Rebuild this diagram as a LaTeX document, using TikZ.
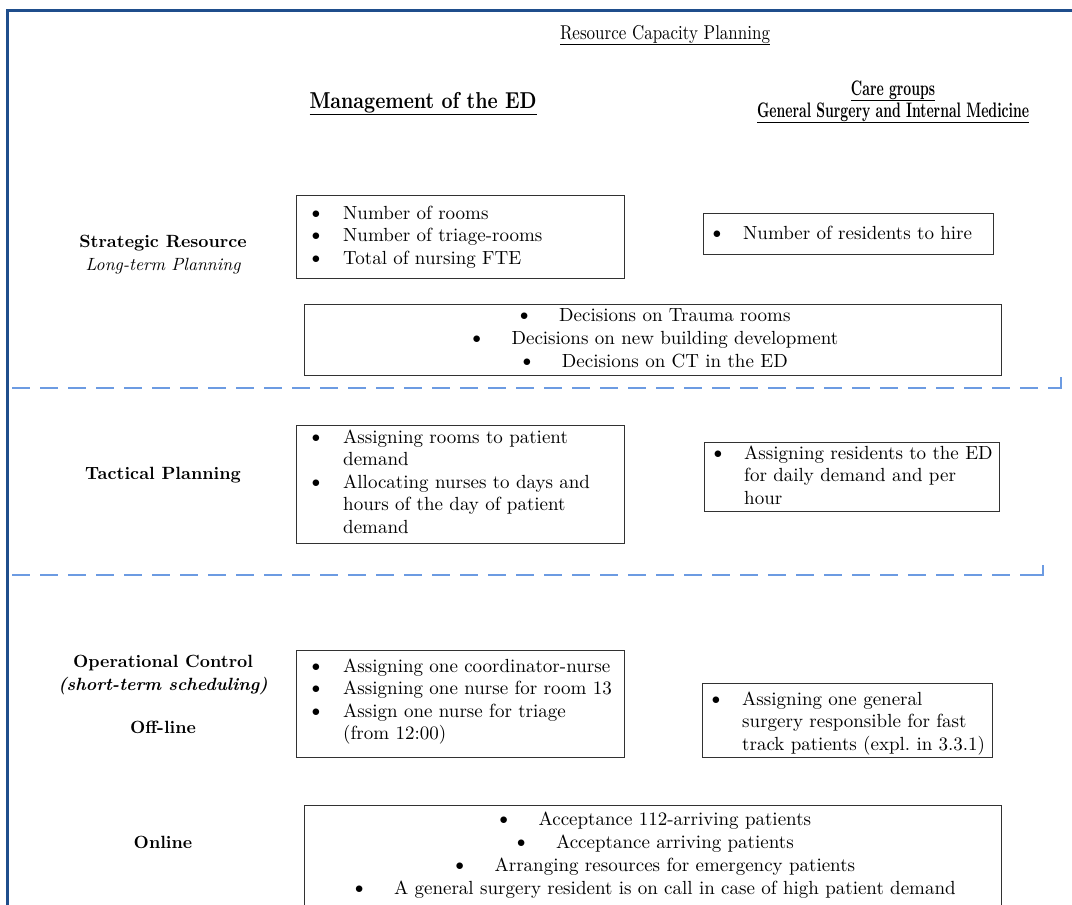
\documentclass[tikz,border=0pt]{standalone}
\usepackage{fontspec}
\setmainfont{lmroman10-regular.otf}[BoldFont=lmroman10-bold.otf, ItalicFont=lmroman10-italic.otf, BoldItalicFont=lmroman10-bolditalic.otf]
\usepackage{graphicx}
\usetikzlibrary{calc}
\definecolor{frameblue}{RGB}{31,78,140}
\definecolor{dashblue}{RGB}{108,155,226}
\definecolor{boxline}{RGB}{50,50,50}
\newcommand{\bodyfont}{\fontsize{19}{22.5}\selectfont}
\newcommand{\labelfont}{\fontsize{17.7}{22.5}\selectfont}
\newcommand{\bul}{\scalebox{1.2}{\textbullet}}
\newcommand{\blist}[3]{\begin{tabular}[t]{@{\hspace{#1}}p{#2}@{}l@{}}#3\end{tabular}}
\newcommand{\clist}[1]{\begin{tabular}[t]{@{}c@{}}#1\end{tabular}}
\newcommand{\bt}{\bul\hspace{26pt}}
\tikzset{
  box/.style={draw=boxline, line width=1pt, inner sep=0pt, anchor=north west},
  listtext/.style={inner sep=0pt, anchor=base west, font=\bodyfont},
  centertext/.style={inner sep=0pt, anchor=base, font=\bodyfont},
  rowlabel/.style={inner sep=0pt, anchor=base, align=center, font=\labelfont\bfseries},
  heading/.style={inner sep=0pt, anchor=base},
  levelsep/.style={draw=dashblue, line width=2pt, dash pattern=on 18pt off 10pt},
  septick/.style={draw=dashblue, line width=1.5pt},
}
\begin{document}
\begin{tikzpicture}[x=1pt,y=-1pt]
\useasboundingbox (0,0) rectangle (1072,905);
\fill[white] (0,0) rectangle (1072,905);
\begin{scope}
\clip (0,0) rectangle (1072,905);
% frame
\draw[frameblue, line width=3pt] (7.5,910) -- (7.5,10.5) -- (1075,10.5);

% headings
\node[heading] (title) at (665,39) {\resizebox{210pt}{\height}{\fontsize{20}{24}\selectfont\underline{Resource Capacity Planning}}};
\node[heading] (mgmt) at (423,108) {\resizebox{227pt}{\height}{\fontsize{23}{26}\selectfont\bfseries\underline{Management of the ED}}};
\node[heading] (care) at (893,95) {\resizebox{272pt}{\height}{\fontsize{21}{22}\selectfont\bfseries\begin{tabular}[t]{@{}c@{}}\underline{Care groups}\\ \underline{General Surgery and Internal Medicine}\end{tabular}}};

% row labels
\node[rowlabel] (strat) at (163,270) {Strategic Resource\\ \mdseries\itshape Long-term Planning};
\node[rowlabel] (tact) at (163,479) {Tactical Planning};
\node[rowlabel] (oper) at (163,690) {Operational Control\\ \itshape (short-term scheduling)};
\node[rowlabel] (offl) at (163,733) {Off-line};
\node[rowlabel] (onl) at (163,848) {Online};

% boxes
\node[box, minimum width=328pt, minimum height=83pt] (b1) at (296,195) {};
\node[box, minimum width=290pt, minimum height=41pt] (b2) at (703,213) {};
\node[box, minimum width=697pt, minimum height=71pt] (b3) at (304,304) {};
\node[box, minimum width=328pt, minimum height=118pt] (b4) at (296,425) {};
\node[box, minimum width=295pt, minimum height=69pt] (b5) at (704,442) {};
\node[box, minimum width=328pt, minimum height=107pt] (b6) at (296,650) {};
\node[box, minimum width=290pt, minimum height=74pt] (b7) at (702,683) {};
\node[box, minimum width=697pt, minimum height=130pt] (b8) at (304,805) {};

% box texts
\node[listtext] (t1) at ($(b1.north west)+(0,24)$) {\blist{11pt}{36pt}{\bul & Number of rooms\\ \bul & Number of triage-rooms\\ \bul & Total of nursing FTE}};
\node[listtext] (t2) at ($(b2.north west)+(0,26)$) {\blist{5pt}{35pt}{\bul & Number of residents to hire}};
\node[centertext] (t3) at ($(b3.north)+(0,17)$) {\def\arraystretch{1.03}\clist{\bt Decisions on Trauma rooms\\ \bt Decisions on new building development\\ \bt Decisions on CT in the ED}};
\node[listtext] (t4) at ($(b4.north west)+(0,18)$) {\blist{11pt}{36pt}{\bul & Assigning rooms to patient\\ & demand\\ \bul & Allocating nurses to days and\\ & hours of the day of patient\\ & demand}};
\node[listtext] (t5) at ($(b5.north west)+(0,17)$) {\blist{5pt}{35pt}{\bul & Assigning residents to the ED\\ & for daily demand and per\\ & hour}};
\node[listtext] (t6) at ($(b6.north west)+(0,22)$) {\blist{11pt}{36pt}{\bul & Assigning one coordinator-nurse\\ \bul & Assigning one nurse for room 13\\ \bul & Assign one nurse for triage\\ & (from 12:00)}};
\node[listtext] (t7) at ($(b7.north west)+(0,22)$) {\blist{5pt}{35pt}{\bul & Assigning one general\\ & surgery responsible for fast\\ & track patients (expl.\ in 3.3.1)}};
\node[centertext] (t8) at ($(b8.north)+(0,20)$) {\def\arraystretch{1.03}\clist{\bt Acceptance 112-arriving patients\\ \bt Acceptance arriving patients\\ \bt Arranging resources for emergency patients\\ \bt A general surgery resident is on call in case of high patient demand}};

% level separators
\coordinate (s1a) at (12,388);
\coordinate (s1b) at (1061,388);
\coordinate (s1c) at (1061,377);
\coordinate (s2a) at (12,575);
\coordinate (s2b) at (1043,575);
\coordinate (s2c) at (1043,565);
\draw[levelsep] (s1a) -- (s1b);
\draw[septick] ($(s1b)+(-8,0)$) -- ($(s1b)+(0,0)$) -- (s1c);
\draw[levelsep] (s2a) -- (s2b);
\draw[septick] ($(s2b)+(-8,0)$) -- ($(s2b)+(0,0)$) -- (s2c);
\end{scope}
\end{tikzpicture}
\end{document}
